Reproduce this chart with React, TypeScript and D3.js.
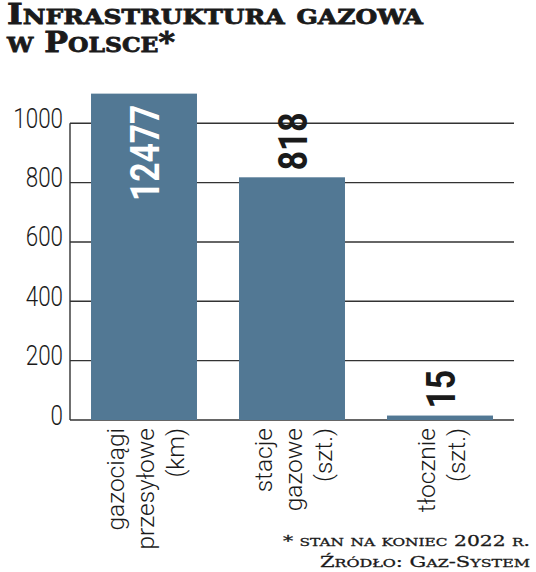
import React from "react";
import * as d3 from "d3";

const categories = ["gazociągi przesyłowe (km)", "stacje gazowe (szt.)", "tłocznie (szt.)"];
const categoryLines = [
  ["gazociągi", "przesyłowe", "(km)"],
  ["stacje", "gazowe", "(szt.)"],
  ["tłocznie", "(szt.)"],
];
const values = [12477, 818, 15];
const valueLabels = ["12477", "818", "15"];
const yTicks = [0, 200, 400, 600, 800, 1000];
const yDomain = [0, 1000];
const barCap = 1100;
const titleLines = ["Infrastruktura gazowa", "w Polsce*"];
const noteLines = ["* stan na koniec 2022 r.", "Źródło: Gaz-System"];

const W = 536;
const H = 572;
const BAR = "#527894";
const GRID = "#333333";
const SANS = "Roboto, 'Noto Sans', sans-serif";
const SERIF = "'DejaVu Serif', 'Liberation Serif', serif";

function SmallCaps({ text, big, small }: { text: string; big: number; small: number }) {
  const runs: { s: string; low: boolean }[] = [];
  for (const c of text) {
    const low = c !== c.toUpperCase();
    const last = runs[runs.length - 1];
    if (last && last.low === low) last.s += c;
    else runs.push({ s: c, low });
  }
  return (
    <>
      {runs.map((r, i) => (
        <tspan key={i} fontSize={r.low ? small : big}>
          {r.s.toUpperCase()}
        </tspan>
      ))}
    </>
  );
}

export default function App() {
  const y = d3.scaleLinear().domain(yDomain).range([420, 123.3]);
  const x = d3
    .scaleBand<string>()
    .domain(categories)
    .range([70, 514])
    .paddingInner(0.284)
    .paddingOuter(0.142);
  const bw = x.bandwidth();

  return (
    <svg
      width={W}
      height={H}
      style={{ position: "fixed", left: 0, top: 0, background: "#fff" }}
    >
      <rect width={W} height={H} fill="#fff" />
      {/* title */}
      <text x={7} y={24} fontFamily={SERIF} fontWeight="bold" fill="#1a1a1a" stroke="#1a1a1a" strokeWidth={0.8} textLength={416} lengthAdjust="spacingAndGlyphs">
        <SmallCaps text={titleLines[0]} big={27} small={20} />
      </text>
      <text x={7} y={52} fontFamily={SERIF} fontWeight="bold" fill="#1a1a1a" stroke="#1a1a1a" strokeWidth={0.8} textLength={168} lengthAdjust="spacingAndGlyphs">
        <SmallCaps text={titleLines[1]} big={27} small={20} />
      </text>

      {/* gridlines */}
      {yTicks.map((t) => (
        <line key={"g" + t} x1={70} x2={514} y1={y(t)} y2={y(t)} stroke={GRID} strokeWidth={1.4} />
      ))}
      <line x1={70} x2={70} y1={y(1000)} y2={y(0)} stroke={GRID} strokeWidth={1.4} />

      {/* tick labels */}
      {yTicks.map((t) => (
        <text
          key={"t" + t}
          transform={`translate(63,${y(t) + 4.5}) scale(0.8,1)`}
          textAnchor="end"
          fontFamily={SANS}
          fontWeight={300}
          fontSize={28}
          fill="#1a1a1a"
        >
          {t}
        </text>
      ))}

      {/* bars */}
      {categories.map((c, i) => (
        <rect
          key={"b" + c}
          x={x(c)}
          width={bw}
          y={y(Math.min(values[i], barCap))}
          height={y(0) - y(Math.min(values[i], barCap))}
          fill={BAR}
        />
      ))}

      {/* value labels */}
      {categories.map((c, i) => {
        const cx = (x(c) as number) + bw / 2;
        const capped = values[i] > barCap;
        const top = y(Math.min(values[i], barCap));
        const ty = capped ? top + 11 : top - 7;
        return (
          <text
            key={"v" + c}
            transform={`translate(${cx + 14.5},${ty}) rotate(-90) scale(0.82,1)`}
            textAnchor={capped ? "end" : "start"}
            fontFamily={SANS}
            fontWeight={700}
            fontSize={41}
            fill={capped ? "#ffffff" : "#1a1a1a"}
          >
            {valueLabels[i]}
          </text>
        );
      })}

      {/* category labels */}
      {categories.map((c, i) => {
        const cx = (x(c) as number) + bw / 2;
        const lines = categoryLines[i];
        const n = lines.length;
        return lines.map((ln, j) => (
          <text
            key={"c" + i + "-" + j}
            transform={`translate(${cx + 10 + (j - (n - 1) / 2) * 30},428) rotate(-90)`}
            textAnchor="end"
            fontFamily={SANS}
            fontWeight={300}
            fontSize={24.5}
            fill="#1a1a1a"
          >
            {ln}
          </text>
        ));
      })}

      {/* footnote */}
      <text x={530} y={546} textAnchor="end" fontFamily={SERIF} fill="#1a1a1a" stroke="#1a1a1a" strokeWidth={0.3} textLength={247} lengthAdjust="spacingAndGlyphs">
        <SmallCaps text={noteLines[0]} big={14.5} small={11} />
      </text>
      <text x={530} y={567} textAnchor="end" fontFamily={SERIF} fill="#1a1a1a" stroke="#1a1a1a" strokeWidth={0.3} textLength={210} lengthAdjust="spacingAndGlyphs">
        <SmallCaps text={noteLines[1]} big={14.5} small={11} />
      </text>
    </svg>
  );
}
